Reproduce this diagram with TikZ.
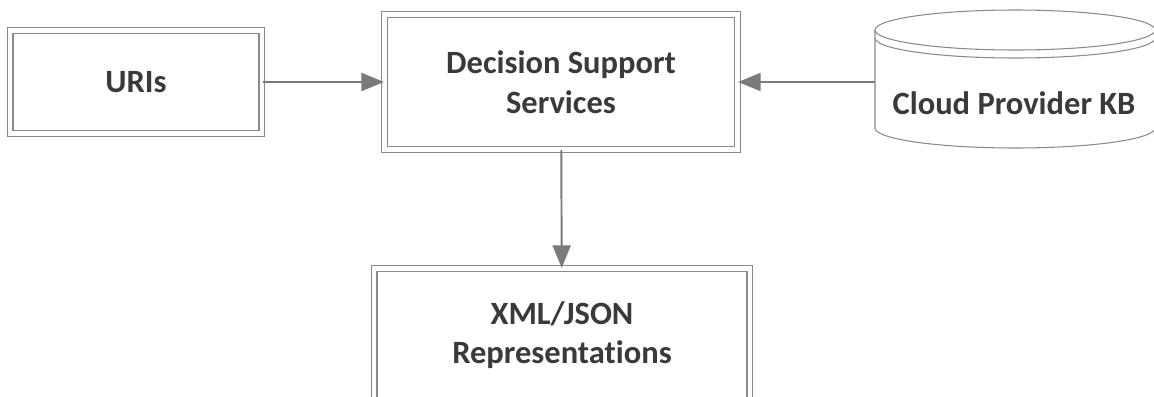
\documentclass[tikz,border=0pt]{standalone}
\usepackage{fontspec}
\setmainfont{Carlito}[Ligatures=NoCommon]
\usepackage{xcolor}
\usepackage{tikz}
\usetikzlibrary{arrows.meta, positioning, shadows, calc}
\definecolor{boxdraw}{HTML}{8A8A8A}
\definecolor{boxtext}{HTML}{3A3A3A}
\definecolor{arrdraw}{HTML}{7A7A7A}
\tikzset{
  blk/.style={rectangle, draw=boxdraw, line width=0.7pt, double=white, double distance=2.6pt, fill=white,
    align=center, font=\fontsize{18.5}{22.5}\selectfont\bfseries, text=boxtext,
    drop shadow={shadow xshift=2pt, shadow yshift=-2pt, fill=black!50, opacity=0.45}},
  cyl/.style={draw=boxdraw, line width=0.6pt},
  lab/.style={font=\fontsize{18.5}{22.5}\selectfont\bfseries, text=boxtext},
  arr/.style={-{Triangle[length=0.45cm, width=0.36cm]}, line width=1.1pt, draw=arrdraw, fill=arrdraw},
}
\begin{document}
\begin{tikzpicture}[x=0.02cm, y=-0.02cm]
  \useasboundingbox (0,0) rectangle (1154,396);
  \node[blk, minimum width=5.04cm, minimum height=2.06cm] (uris) at (136,82) {URIs};
  \node[blk, minimum width=7.06cm, minimum height=2.7cm] (dss) at (561,82) {Decision Support\\Services};
  \node[blk, minimum width=7.52cm, minimum height=2.66cm] (xml) at (562,335) {XML/JSON\\Representations};
  % knowledge base cylinder
  \draw[cyl, fill=white] (875,30) -- (875,128) arc[start angle=180, end angle=0, x radius=140, y radius=20] -- (1155,30);
  \draw[cyl] (1015,30) ellipse[x radius=140, y radius=20];
  \draw[cyl] (875,38) arc[start angle=180, end angle=0, x radius=140, y radius=20];
  \coordinate (kbw) at (875,82);
  \node[lab] (kb) at (1014,103) {Cloud Provider KB};
  % connectors
  \draw[arr] (uris) -- (dss);
  \draw[arr] (kbw) -- (dss.east);
  \draw[arr] (dss) -- (xml);
\end{tikzpicture}
\end{document}
